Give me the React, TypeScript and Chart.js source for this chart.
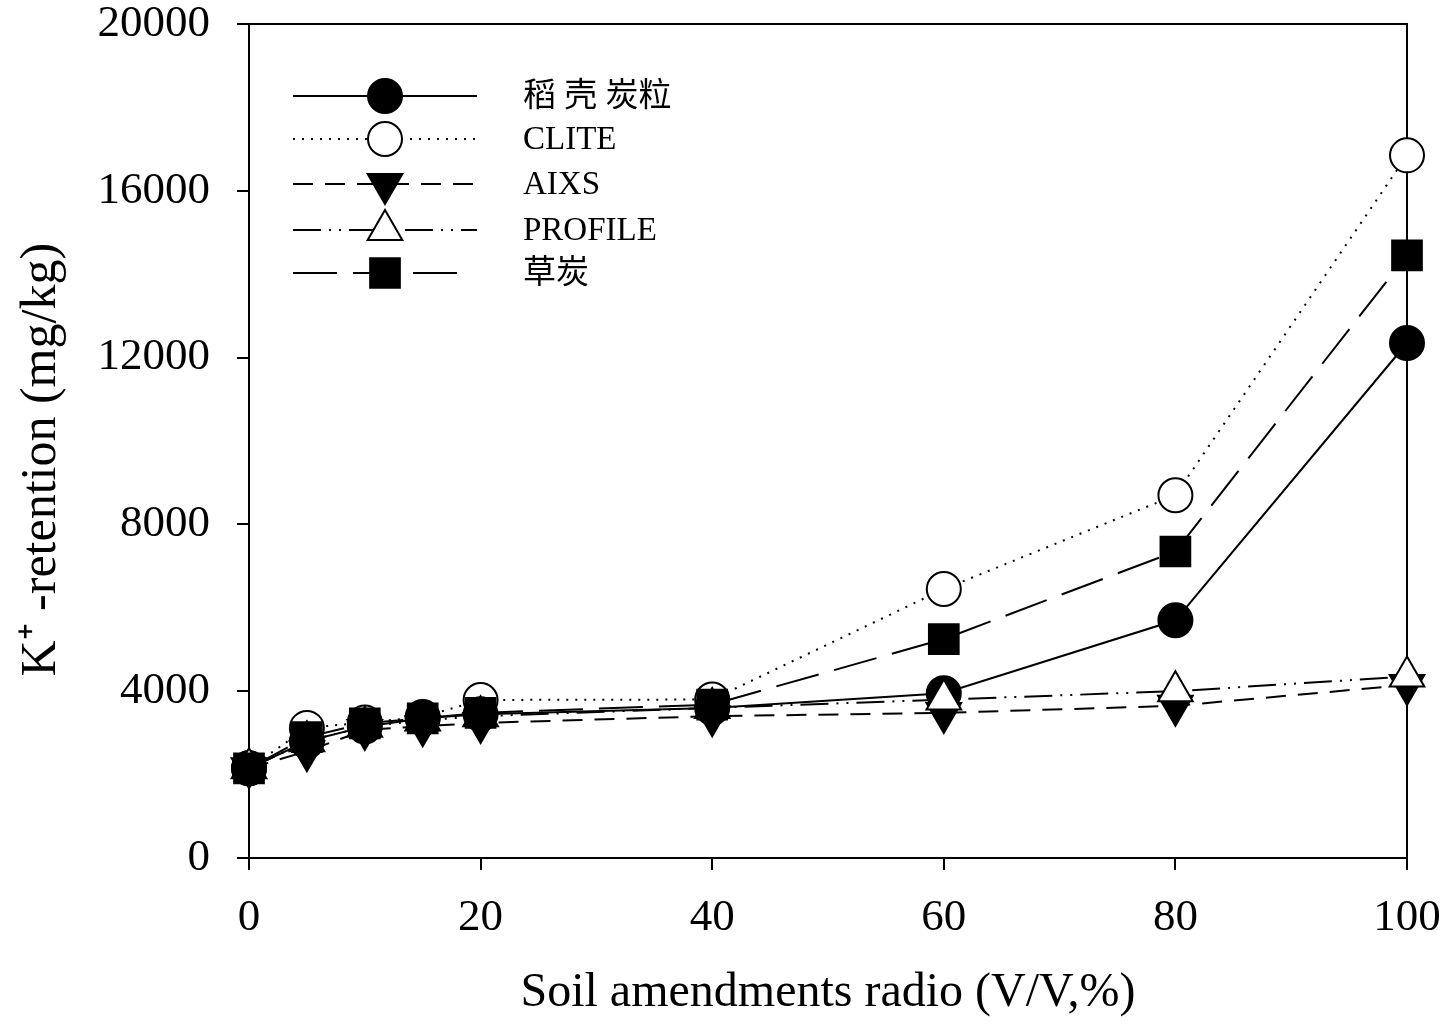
import React, { useEffect, useRef } from 'react';
import { Chart, registerables } from 'chart.js';

Chart.register(...registerables);

// ---- data ----
const xValues = [0, 5, 10, 15, 20, 40, 60, 80, 100];
const daokeTanli = [2150, 2800, 3150, 3350, 3450, 3600, 3950, 5700, 12350];
const clite = [2150, 3120, 3250, 3380, 3790, 3800, 6450, 8700, 16850];
const aixs = [2150, 2560, 3070, 3160, 3240, 3400, 3480, 3650, 4150];
const profile = [2150, 2800, 3150, 3300, 3400, 3600, 3800, 4000, 4350];
const caoTan = [2150, 2900, 3230, 3350, 3480, 3680, 5250, 7350, 14450];
const seriesLabels = ['稻 壳 炭粒', 'CLITE', 'AIXS', 'PROFILE', '草炭'];
const xTicks = [0, 20, 40, 60, 80, 100];
const yTicks = [0, 4000, 8000, 12000, 16000, 20000];
const xTitle = 'Soil amendments radio (V/V,%)';
const yTitle = 'K\u207A -retention (mg/kg)   ';

const FONT = "'Liberation Serif', 'Times New Roman', 'Noto Sans CJK SC', serif";

type Sty = { dash: number[]; shape: 'circle' | 'triangle' | 'rect'; fill: string; r: number; rot: number; order: number };
const styles: Sty[] = [
  { dash: [], shape: 'circle', fill: '#000', r: 17, rot: 0, order: 4 },
  { dash: [2, 7], shape: 'circle', fill: '#fff', r: 17, rot: 0, order: 5 },
  { dash: [20, 12], shape: 'triangle', fill: '#000', r: 20, rot: 180, order: 3 },
  { dash: [28, 8, 2, 8, 2, 8], shape: 'triangle', fill: '#fff', r: 20, rot: 0, order: 2 },
  { dash: [44, 16], shape: 'rect', fill: '#000', r: 21, rot: 0, order: 1 },
];
const seriesValues = [daokeTanli, clite, aixs, profile, caoTan];

function drawMarker(ctx: CanvasRenderingContext2D, s: Sty, x: number, y: number) {
  ctx.save();
  ctx.setLineDash([]);
  ctx.fillStyle = s.fill;
  ctx.strokeStyle = '#000';
  ctx.lineWidth = 2;
  ctx.beginPath();
  if (s.shape === 'circle') {
    ctx.arc(x, y, s.r, 0, Math.PI * 2);
  } else if (s.shape === 'triangle') {
    let rad = (s.rot * Math.PI) / 180;
    for (let i = 0; i < 3; i++) {
      const px = x + Math.sin(rad) * s.r;
      const py = y - Math.cos(rad) * s.r;
      if (i === 0) ctx.moveTo(px, py); else ctx.lineTo(px, py);
      rad += (2 * Math.PI) / 3;
    }
    ctx.closePath();
  } else {
    const h = Math.SQRT1_2 * s.r;
    ctx.rect(x - h, y - h, 2 * h, 2 * h);
  }
  ctx.fill();
  ctx.stroke();
  ctx.restore();
}

const boxPlugin = {
  id: 'boxPlugin',
  beforeDatasetsDraw(chart: any) {
    const { ctx, chartArea } = chart;
    ctx.save();
    ctx.strokeStyle = '#000';
    ctx.lineWidth = 2;
    ctx.beginPath();
    ctx.moveTo(chartArea.left, chartArea.top);
    ctx.lineTo(chartArea.right, chartArea.top);
    ctx.lineTo(chartArea.right, chartArea.bottom);
    ctx.stroke();
    ctx.restore();
  },
};

const legendPlugin = {
  id: 'innerLegend',
  afterDraw(chart: any) {
    const { ctx, chartArea } = chart;
    const x0 = chartArea.left + 44;
    const x1 = chartArea.left + 228;
    const xm = chartArea.left + 136;
    const xt = chartArea.left + 274;
    const rowY = [72, 115, 160, 206, 249];
    ctx.save();
    seriesLabels.forEach((label, i) => {
      const s = styles[i];
      const y = chartArea.top + rowY[i];
      ctx.strokeStyle = '#000';
      ctx.lineWidth = 2;
      ctx.setLineDash(s.dash);
      ctx.beginPath();
      ctx.moveTo(x0, y);
      ctx.lineTo(i === 4 ? x1 - 16 : x1, y);
      ctx.stroke();
      ctx.setLineDash([]);
      drawMarker(ctx, s, xm, y);
      ctx.fillStyle = '#000';
      ctx.font = `33px ${FONT}`;
      ctx.textAlign = 'left';
      ctx.textBaseline = 'middle';
      ctx.fillText(label, xt, y + 1);
    });
    ctx.restore();
  },
};

export default function App() {
  const ref = useRef<HTMLCanvasElement | null>(null);
  useEffect(() => {
    if (!ref.current) return;
    Chart.defaults.font.family = FONT;
    Chart.defaults.color = '#000';
    const datasets = seriesLabels.map((label, i) => {
      const s = styles[i];
      return {
        label,
        data: xValues.map((x, j) => ({ x, y: seriesValues[i][j] })),
        borderColor: '#000',
        borderWidth: 2,
        borderDash: s.dash,
        backgroundColor: s.fill,
        pointStyle: s.shape,
        pointRotation: s.rot,
        pointRadius: s.r,
        pointHoverRadius: s.r,
        pointBackgroundColor: s.fill,
        pointBorderColor: '#000',
        pointBorderWidth: 2,
        tension: 0,
        fill: false,
        clip: false as any,
        order: s.order,
      };
    });
    const chart = new Chart(ref.current, {
      type: 'line',
      data: { datasets },
      options: {
        animation: false,
        responsive: false,
        devicePixelRatio: 1,
        layout: { padding: { top: 24, right: 44, left: 0, bottom: 0 } },
        plugins: { legend: { display: false }, tooltip: { enabled: false } },
        scales: {
          x: {
            type: 'linear',
            min: 0,
            max: 100,
            afterBuildTicks: (scale: any) => {
              scale.ticks = xTicks.map((v) => ({ value: v }));
            },
            afterFit: (scale: any) => {
              scale.height = 166;
              scale.paddingLeft = 0;
              scale.paddingRight = 0;
            },
            ticks: {
              font: { size: 45 },
              color: '#000',
              padding: 21,
              maxRotation: 0,
              autoSkip: false,
              callback: (v: any) => String(v),
            },
            grid: { drawOnChartArea: false, drawTicks: true, tickLength: 12, color: '#000', lineWidth: 2 },
            border: { display: true, color: '#000', width: 2 },
            title: { display: true, text: xTitle, font: { size: 48 }, color: '#000', padding: { top: 0, bottom: 2 } },
          },
          y: {
            type: 'linear',
            min: 0,
            max: 20000,
            afterBuildTicks: (scale: any) => {
              scale.ticks = yTicks.map((v) => ({ value: v }));
            },
            afterFit: (scale: any) => {
              scale.width = 249;
              scale.paddingTop = 0;
              scale.paddingBottom = 0;
            },
            ticks: {
              font: { size: 45 },
              color: '#000',
              padding: 27,
              autoSkip: false,
              callback: (v: any) => String(v),
            },
            grid: { drawOnChartArea: false, drawTicks: true, tickLength: 12, color: '#000', lineWidth: 2 },
            border: { display: true, color: '#000', width: 2 },
            title: { display: true, text: yTitle, font: { size: 50 }, color: '#000', padding: { top: 12, bottom: 0 } },
          },
        },
      },
      plugins: [boxPlugin, legendPlugin],
    });
    return () => chart.destroy();
  }, []);
  return (
    <div style={{ position: 'absolute', left: 0, top: 0, width: 1451, height: 1024, background: '#fff' }}>
      <canvas ref={ref} width={1451} height={1024} style={{ width: 1451, height: 1024, display: 'block' }} />
    </div>
  );
}
